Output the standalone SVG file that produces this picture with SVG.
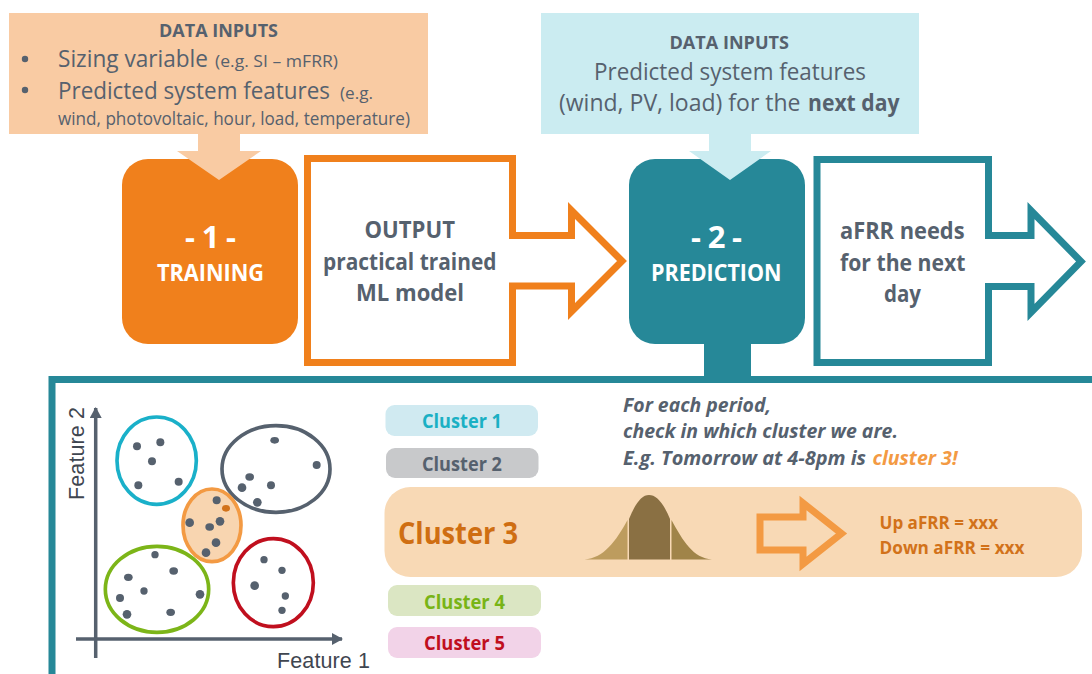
<svg xmlns="http://www.w3.org/2000/svg" width="1092" height="674" viewBox="0 0 1092 674">
<style>
text{font-family:"Open Sans","Noto Sans","Liberation Sans",sans-serif;fill:#56616e}
.b{font-weight:700}
.w{fill:#fff;font-weight:700}
.c{font-weight:700;font-size:20px}
.i{font-weight:700;font-style:italic;font-size:19px}
.a{font-family:"Liberation Sans",Arial,sans-serif;font-size:21.5px;fill:#3f4650}
.o{fill:none;stroke-width:7;stroke-miterlimit:10}
.d{fill:#56616e}
.e{fill:none;stroke-width:11}
</style>
<defs>
<marker id="ah" markerUnits="userSpaceOnUse" markerWidth="12" markerHeight="12" refX="10" refY="6" orient="auto"><path d="M0,0L11,6L0,12Z" fill="#56616e"/></marker>
</defs>
<g id="input1">
<rect x="9" y="13" width="419" height="121" fill="#f9cba3"/>
<text class="b" x="159" y="37" font-size="18.500" textLength="119" lengthAdjust="spacingAndGlyphs">DATA INPUTS</text>
<circle cx="25" cy="59" r="3.2" fill="#56616e"/>
<circle cx="25" cy="90" r="3.2" fill="#56616e"/>
<text x="58" y="67" font-size="24" textLength="150" lengthAdjust="spacingAndGlyphs">Sizing variable</text>
<text x="215" y="67" font-size="17" textLength="123" lengthAdjust="spacingAndGlyphs">(e.g. SI – mFRR)</text>
<text y="99" font-size="23"><tspan x="58" textLength="272" lengthAdjust="spacingAndGlyphs">Predicted system features</tspan><tspan x="340" font-size="17" textLength="33" lengthAdjust="spacingAndGlyphs">(e.g.</tspan></text>
<text x="58" y="125" font-size="18" textLength="352" lengthAdjust="spacingAndGlyphs">wind, photovoltaic, hour, load, temperature)</text>
</g>
<g id="training">
<rect x="122" y="159" width="176" height="185" rx="26" fill="#f0801c"/>
<text class="w" x="185" y="248" font-size="31" textLength="51" xml:space="preserve">- 1 -</text>
<text class="w" x="157" y="281" font-size="24" textLength="107" lengthAdjust="spacingAndGlyphs">TRAINING</text>
</g>
<g id="output">
<path class="o" stroke="#f0801c" style="fill:#fff" d="M307.500,158.500H512.500V235.500H571.500V210.500L622,261L571.500,311.500V286H512.500V362.500H307.500Z"/>
<text class="b" x="364.500" y="238" font-size="24" textLength="90.500" lengthAdjust="spacingAndGlyphs">OUTPUT</text>
<text class="b" x="323" y="269.500" font-size="24" textLength="173.500" lengthAdjust="spacingAndGlyphs">practical trained</text>
<text class="b" x="356" y="301" font-size="24" textLength="108" lengthAdjust="spacingAndGlyphs">ML model</text>
</g>
<g id="input2">
<rect x="541" y="13" width="378" height="121" fill="#cbecf1"/>
<text class="b" x="669.500" y="49" font-size="18.500" textLength="119.500" lengthAdjust="spacingAndGlyphs">DATA INPUTS</text>
<text x="594" y="79.500" font-size="24" textLength="272" lengthAdjust="spacingAndGlyphs">Predicted system features</text>
<text x="559" y="110.500" font-size="24" textLength="241.500" lengthAdjust="spacingAndGlyphs">(wind, PV, load) for the</text>
<text class="b" x="808" y="110.500" font-size="24" textLength="91.500" lengthAdjust="spacingAndGlyphs">next day</text>
</g>
<g id="prediction">
<rect x="629" y="159" width="176" height="185" rx="26" fill="#268898"/>
<text class="w" x="691" y="248" font-size="31" textLength="51" xml:space="preserve">- 2 -</text>
<text class="w" x="651" y="281" font-size="24" textLength="130.500" lengthAdjust="spacingAndGlyphs">PREDICTION</text>
</g>
<g id="result">
<path class="o" stroke="#268898" style="fill:#fff" d="M817,159.500H988.500V235.500H1031V210.500L1081,261.500L1031,312.500V286.500H988.500V362.500H817Z"/>
<text class="b" x="840" y="239" font-size="24" textLength="124.500" lengthAdjust="spacingAndGlyphs">aFRR needs</text>
<text class="b" x="840" y="270.500" font-size="24" textLength="125.500" lengthAdjust="spacingAndGlyphs">for the next</text>
<text class="b" x="884" y="302" font-size="24" textLength="37" lengthAdjust="spacingAndGlyphs">day</text>
</g>
<g id="panel">
<path d="M52,674V379.500H1092" fill="none" stroke="#268898" stroke-width="7"/>
</g>
<g id="scatter">
<line x1="95.700" y1="658" x2="95.700" y2="408" stroke="#56616e" stroke-width="3.500" marker-end="url(#ah)"/>
<line x1="76" y1="639" x2="342" y2="639" stroke="#56616e" stroke-width="3.500" marker-end="url(#ah)"/>
<text class="a" x="277" y="667.500" textLength="93">Feature 1</text>
<text class="a" transform="translate(84 500) rotate(-90)" x="0" y="0" textLength="93">Feature 2</text>
<g transform="translate(40 380) scale(.33333)">
<ellipse class="e" cx="350" cy="242" rx="119" ry="131" stroke="#1ab0c9"/>
<ellipse class="e" cx="708" cy="267" rx="162" ry="130" stroke="#56616e"/>
<ellipse class="e" cx="516" cy="436" rx="87" ry="109" stroke="#f39a43" style="fill:#f8d5b0"/>
<ellipse class="e" cx="351" cy="628" rx="155" ry="129" stroke="#7cb518"/>
<ellipse class="e" cx="700" cy="608" rx="120" ry="132" stroke="#c00f1e"/>
<g class="d">
<circle cx="291" cy="199" r="12"/><circle cx="361" cy="187" r="12"/><circle cx="336" cy="244" r="12"/><circle cx="295" cy="316" r="12"/><circle cx="416" cy="305" r="12"/>
<ellipse cx="704" cy="181" rx="13" ry="10"/><circle cx="830" cy="255" r="12"/><ellipse cx="629" cy="291" rx="13" ry="11"/><circle cx="606" cy="323" r="13"/><circle cx="693" cy="316" r="12"/><circle cx="652" cy="367" r="13"/>
<circle cx="530" cy="361" r="12"/><circle cx="449" cy="428" r="13"/><ellipse cx="509" cy="441" rx="13" ry="11"/><circle cx="540" cy="424" r="13"/><circle cx="528" cy="488" r="13"/><circle cx="498" cy="518" r="13"/>
<circle cx="345" cy="524" r="11"/><ellipse cx="401" cy="573" rx="13" ry="11"/><ellipse cx="265" cy="592" rx="13" ry="11"/><circle cx="312" cy="633" r="11"/><circle cx="240" cy="654" r="12"/><circle cx="261" cy="703" r="13"/><ellipse cx="392" cy="697" rx="13" ry="11"/><circle cx="480" cy="643" r="13"/>
<circle cx="672" cy="539" r="11"/><circle cx="726" cy="571" r="11"/><circle cx="644" cy="617" r="13"/><circle cx="736" cy="648" r="11"/><circle cx="726" cy="691" r="11"/>
</g>
<ellipse cx="558" cy="385" rx="12" ry="10" fill="#d2721a"/>
</g>
</g>
<g id="cluster1">
<rect x="385.500" y="405" width="152.500" height="31" rx="9" fill="#d0eaf1"/>
<text class="c" x="422" y="428" style="fill:#1ab0c4" textLength="80" lengthAdjust="spacingAndGlyphs">Cluster 1</text>
</g>
<g id="cluster2">
<rect x="386" y="448" width="152.500" height="30" rx="9" fill="#c8c9cb"/>
<text class="c" x="422" y="471" textLength="80" lengthAdjust="spacingAndGlyphs">Cluster 2</text>
</g>
<g id="cluster3">
<rect x="384.500" y="487" width="697.500" height="90" rx="26" fill="#f8d9b5"/>
<text class="b" x="398" y="544" font-size="30" style="fill:#cf6e12" textLength="120" lengthAdjust="spacingAndGlyphs">Cluster 3</text>
<path d="M584.500,559.500C604,558 616,541 627.500,520V559.500Z" fill="#bd9c5e"/>
<path d="M629,519C636,502 642,495 649,495C656,495 663,502 670,519V559.500H629Z" fill="#8a7043"/>
<path d="M671.500,520C683,541 693,558 712,559.500H671.500Z" fill="#a08449"/>
<path class="o" stroke="#f39a43" d="M760,517H803V503L841.500,533.500L803,564V550H760Z"/>
<text class="b" x="879.500" y="528.500" font-size="17" style="fill:#d2721a" textLength="118.500" lengthAdjust="spacingAndGlyphs">Up aFRR = xxx</text>
<text class="b" x="879.500" y="553.500" font-size="17" style="fill:#d2721a" textLength="145" lengthAdjust="spacingAndGlyphs">Down aFRR = xxx</text>
</g>
<g id="cluster4">
<rect x="388" y="585" width="153" height="31" rx="9" fill="#dbe6c3"/>
<text class="c" x="424" y="608.500" style="fill:#78b416" textLength="81" lengthAdjust="spacingAndGlyphs">Cluster 4</text>
</g>
<g id="cluster5">
<rect x="388" y="627" width="153" height="31" rx="9" fill="#f2d3e8"/>
<text class="c" x="424" y="650" style="fill:#c00f1e" textLength="81" lengthAdjust="spacingAndGlyphs">Cluster 5</text>
</g>
<g id="note">
<text class="i" x="623" y="411.500" textLength="148" lengthAdjust="spacingAndGlyphs">For each period,</text>
<text class="i" x="623" y="438" textLength="275" lengthAdjust="spacingAndGlyphs">check in which cluster we are.</text>
<text class="i" x="623" y="465" textLength="243" lengthAdjust="spacingAndGlyphs">E.g. Tomorrow at 4-8pm is</text>
<text class="i" x="872.500" y="465" style="fill:#f39a43" textLength="85" lengthAdjust="spacingAndGlyphs">cluster 3!</text>
</g>
<g id="connectors">
<path d="M198,134H240V151H261L219,180L177,151H198Z" fill="#f9cba3"/>
<path d="M709,134H751V151H771L730,180L689,151H709Z" fill="#cbecf1"/>
<rect x="704" y="343" width="47" height="36" fill="#268898"/>
</g>
</svg>
